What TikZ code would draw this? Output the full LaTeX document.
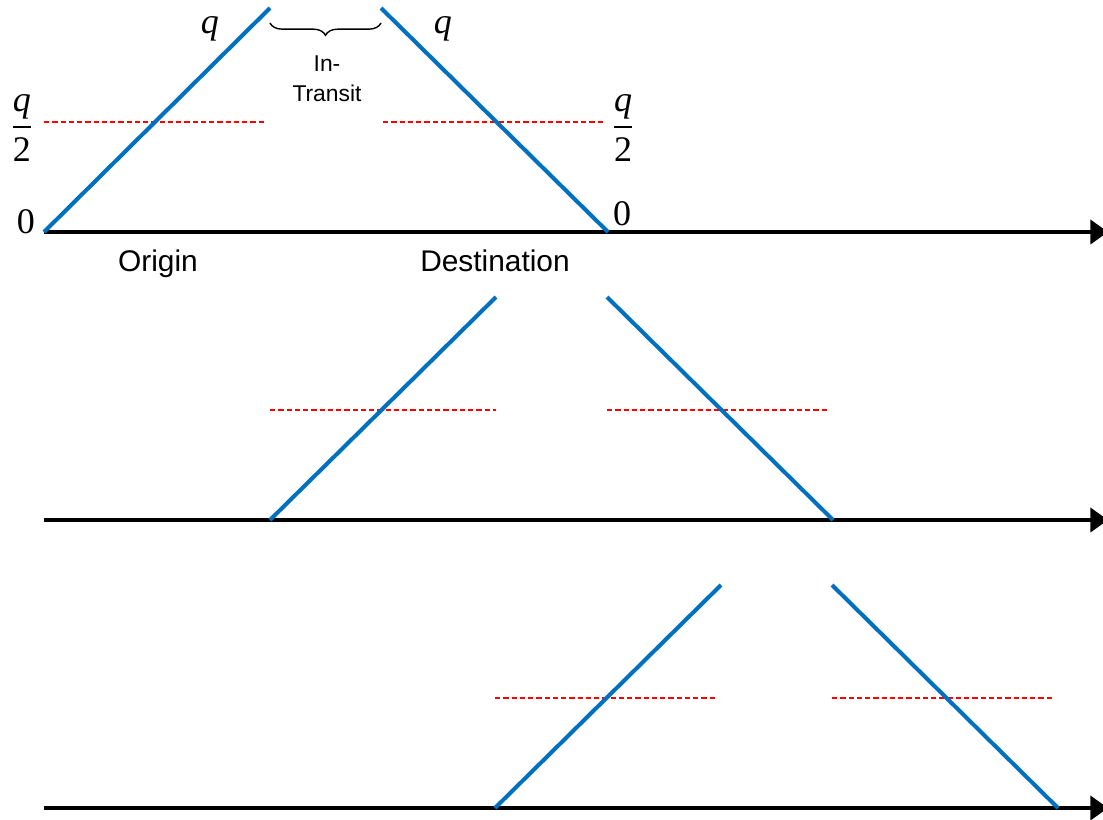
\documentclass[tikz,border=0pt]{standalone}
\usepackage{fontspec}
\setmainfont{Liberation Sans}
\newfontfamily\timesf{Liberation Serif}
\usepackage{amsmath}
\usetikzlibrary{arrows.meta}
\usetikzlibrary{decorations.pathreplacing}

\definecolor{stockblue}{RGB}{0,112,192}
\tikzset{
  axis/.style={line width=2.5pt, -{Triangle[length=10pt,width=13.5pt]}},
  stock/.style={line width=2.3pt, color=stockblue},
  half/.style={line width=1.4pt, color=red, dash pattern=on 3pt off 1.7pt},
  lab/.style={font=\fontsize{17}{20}\selectfont, inner sep=0pt},
  sym/.style={font=\fontsize{20.5}{24}\selectfont\timesf, inner sep=0pt}
}
\newcommand{\qq}{\mbox{\timesf\itshape q}}
\newcommand{\qhalf}{$\dfrac{\qq}{\mbox{\timesf 2}}$}

\begin{document}
\begin{tikzpicture}[x=0.02cm, y=-0.02cm]
\useasboundingbox (0,0) rectangle (1103,819);

% first period
\coordinate (a0) at (44,232);
\coordinate (a1) at (1108,232);
\coordinate (o0) at (44,232);
\coordinate (o1) at (270,8);
\coordinate (d0) at (381,8);
\coordinate (d1) at (608,232);
\coordinate (h0) at (44,122);
\coordinate (h1) at (265,122);
\coordinate (h2) at (383,122);
\coordinate (h3) at (604,122);
\draw [axis] (a0) -- (a1);
\draw [half] (h0) -- (h1);
\draw [half] (h2) -- (h3);
\draw [stock] (o0) -- (o1);
\draw [stock] (d0) -- (d1);

\node [sym] (qo) at (210,29) {\itshape q};
\node [sym] (qd) at (443,29) {\itshape q};
\node [sym] (ho) at (22,128) {\qhalf};
\node [sym] (hd) at (623,128) {\qhalf};
\node [sym] (zo) at (26,222) {0};
\node [sym] (zd) at (622,214) {0};
\node [lab] (orig) at (158,264) {Origin};
\node [lab] (dest) at (495,261) {Destination};

\coordinate (b0) at (270,23);
\coordinate (b1) at (381,23);
\draw [line width=0.8pt, decorate, decoration={brace, mirror, amplitude=7pt}] (b0) -- (b1);
\node [inner sep=0pt, align=center, font=\fontsize{13}{17}\selectfont] (tr) at (327,79) {In-\\Transit};

% second period
\coordinate (a2) at (44,520);
\coordinate (a3) at (1108,520);
\coordinate (o2) at (270,520);
\coordinate (o3) at (496,297);
\coordinate (d2) at (607,297);
\coordinate (d3) at (833,520);
\coordinate (h4) at (270,410);
\coordinate (h5) at (496,410);
\coordinate (h6) at (607,410);
\coordinate (h7) at (829,410);
\draw [axis] (a2) -- (a3);
\draw [half] (h4) -- (h5);
\draw [half] (h6) -- (h7);
\draw [stock] (o2) -- (o3);
\draw [stock] (d2) -- (d3);

% third period
\coordinate (a4) at (44,808);
\coordinate (a5) at (1108,808);
\coordinate (o4) at (495,808);
\coordinate (o5) at (721,585);
\coordinate (d4) at (832,585);
\coordinate (d5) at (1058,808);
\coordinate (h8) at (495,698);
\coordinate (h9) at (716,698);
\coordinate (h10) at (832,698);
\coordinate (h11) at (1054,698);
\draw [axis] (a4) -- (a5);
\draw [half] (h8) -- (h9);
\draw [half] (h10) -- (h11);
\draw [stock] (o4) -- (o5);
\draw [stock] (d4) -- (d5);
\end{tikzpicture}
\end{document}
